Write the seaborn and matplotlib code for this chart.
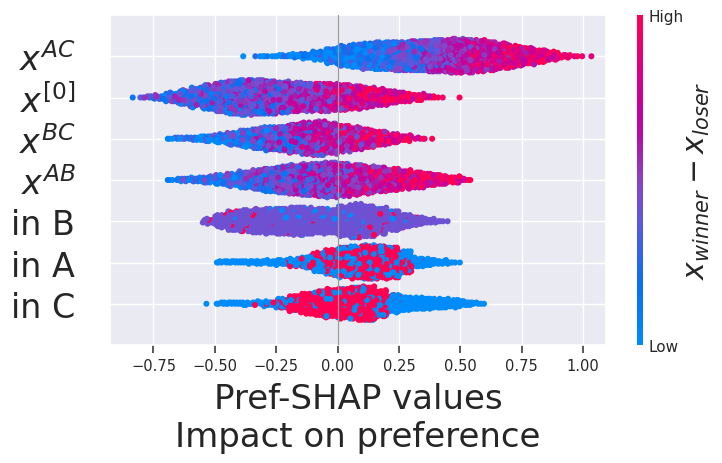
import numpy as np
import pandas as pd
import matplotlib
matplotlib.use("Agg")
import matplotlib.pyplot as plt
import seaborn as sns
from matplotlib.colors import LinearSegmentedColormap, Normalize
from matplotlib.cm import ScalarMappable

# ----------------------------------------------------------
# data: per feature, counts of points in
# 0.05-wide bins of SHAP value, starting at *_START, and the
# feature value (0 = low, 1 = high) of the points in each bin
# ----------------------------------------------------------
features = ["in C", "in A", "in B", r"$x^{AB}$", r"$x^{BC}$", r"$x^{[0]}$", r"$x^{AC}$"]

AC_START = -0.40
ac_counts = [1, 3, 4, 6, 10, 16, 28, 50,
             70, 80, 88, 95, 98, 100, 104, 108, 112, 118,
             116, 108, 98, 86, 72, 58, 42, 28, 12, 3, 1]
ac_value = [0.03, 0.03, 0.03, 0.04, 0.04, 0.05, 0.06, 0.08,
            0.10, 0.13, 0.17, 0.22, 0.28, 0.34, 0.40, 0.47, 0.54, 0.60,
            0.65, 0.70, 0.74, 0.78, 0.82, 0.85, 0.88, 0.90, 0.92, 0.93, 0.94]

X0_START = -0.85
x0_counts = [2, 6, 14, 28, 45, 62, 78, 95, 108, 115,
             112, 108, 100, 94, 90, 90, 88,
             82, 75, 64, 52, 40, 30, 20, 8, 2, 1]
x0_value = [0.30, 0.30, 0.30, 0.31, 0.32, 0.33, 0.34, 0.35, 0.36, 0.38,
            0.40, 0.43, 0.47, 0.52, 0.57, 0.62, 0.67,
            0.72, 0.77, 0.82, 0.86, 0.90, 0.92, 0.94, 0.95, 0.96, 0.96]

BC_START = -0.70
bc_counts = [5, 8, 12, 18, 28, 42, 56, 70, 80, 84, 96,
             110, 118, 104, 90, 76, 62, 48, 32, 18, 4, 2]
bc_value = [0.08, 0.08, 0.08, 0.10, 0.12, 0.16, 0.24, 0.31, 0.37, 0.42, 0.48,
            0.54, 0.60, 0.65, 0.70, 0.75, 0.81, 0.86, 0.90, 0.92, 0.93, 0.94]

AB_START = -0.70
ab_counts = [4, 10, 14, 20, 30, 40, 52, 64, 76, 86, 94, 102, 108,
             114, 106, 96, 88, 80, 70, 60, 50, 40, 30, 20, 6]
ab_value = [0.15, 0.15, 0.18, 0.20, 0.22, 0.25, 0.30, 0.33, 0.37, 0.40, 0.44, 0.48, 0.52,
            0.56, 0.60, 0.65, 0.70, 0.75, 0.80, 0.85, 0.88, 0.90, 0.92, 0.93, 0.94]

INB_START = -0.55
inb_counts = [14, 40, 62, 70, 76, 80, 84, 90, 88, 80,
              76, 96, 110, 100, 84, 62, 42, 26, 14, 4]
inb_red = [0.10, 0.10, 0.09, 0.08, 0.06, 0.04, 0.03, 0.03, 0.03, 0.03,
           0.03, 0.03, 0.03, 0.04, 0.06, 0.08, 0.08, 0.06, 0.04, 0.0]
inb_blue = [0.03, 0.03, 0.04, 0.05, 0.06, 0.07, 0.08, 0.09, 0.09, 0.10,
            0.10, 0.09, 0.08, 0.07, 0.06, 0.04, 0.03, 0.02, 0.0, 0.0]

INA_START = -0.50
ina_counts = [6, 8, 9, 10, 12, 16, 24, 36, 62, 82,
              96, 104, 110, 106, 100, 70, 30, 20, 12, 4]
ina_red = [0, 0, 0, 0, 0.02, 0.08, 0.15, 0.35, 0.52, 0.58,
           0.60, 0.60, 0.60, 0.60, 0.58, 0.45, 0.10, 0, 0, 0]

INC_START = -0.55
inc_counts = [1, 6, 8, 9, 10, 14, 30, 50, 66, 80, 90, 96,
              106, 110, 84, 56, 44, 38, 34, 30, 24, 14, 5]
inc_red = [0, 0, 0, 0, 0.05, 0.25, 0.60, 0.80, 0.85, 0.85, 0.85, 0.85,
           0.85, 0.82, 0.65, 0.20, 0.03, 0, 0, 0, 0, 0, 0]

BIN = 0.05
MID = 0.42  # colour value of the "no difference" points in row "in B"

# shap-like red/blue colour map
shap_cmap = LinearSegmentedColormap.from_list(
    "red_blue",
    [(0.0, "#008bfb"), (0.18, "#0a6ff0"), (0.38, "#6058dc"), (0.5, "#8a42c2"),
     (0.64, "#b30ea6"), (0.72, "#c4009e"), (0.86, "#e1007e"), (1.0, "#ff0052")])


# ----------------------------------------------------------
# expand the binned counts into beeswarm points
# ----------------------------------------------------------
def spread_in_bins(start, counts):
    xs, u, b_idx = [], [], []
    for b, c in enumerate(counts):
        k = np.arange(c) + 0.5
        xs.append(start + BIN * (b + (k * 0.6180339887 + b * 0.37) % 1.0))
        u.append((k * 0.41421356 + b * 0.29) % 1.0)
        b_idx.append(np.full(c, b))
    return np.concatenate(xs), np.concatenate(u), np.concatenate(b_idx)


def continuous_colors(u, b_idx, means, spread):
    return np.clip(np.asarray(means)[b_idx] + spread * (2 * u - 1), 0, 1)


def binary_colors(u, b_idx, red):
    return (u < np.asarray(red)[b_idx]).astype(float)


def swarm_offsets(xs, start, row_height=0.5):
    quant = np.floor((xs - start) / (BIN / 4) + 1e-9)
    key = ((np.arange(len(xs)) + 0.5) * 0.7182818) % 1.0
    inds = np.lexsort((key, quant))
    ys = np.zeros(len(xs))
    layer, last = 0, None
    for i in inds:
        if quant[i] != last:
            layer = 0
        ys[i] = np.ceil(layer / 2) * ((layer % 2) * 2 - 1)
        layer += 1
        last = quant[i]
    return ys * 0.9 * (row_height / np.max(ys + 1))


rows = []

x, u, b = spread_in_bins(INC_START, inc_counts)
rows.append((x, binary_colors(u, b, inc_red), INC_START))

x, u, b = spread_in_bins(INA_START, ina_counts)
rows.append((x, binary_colors(u, b, ina_red), INA_START))

x, u, b = spread_in_bins(INB_START, inb_counts)
v = np.full(len(x), MID)
v[u < np.asarray(inb_red)[b]] = 1.0
v[u > 1 - np.asarray(inb_blue)[b]] = 0.0
rows.append((x, v, INB_START))

x, u, b = spread_in_bins(AB_START, ab_counts)
rows.append((x, continuous_colors(u, b, ab_value, 0.30), AB_START))

x, u, b = spread_in_bins(BC_START, bc_counts)
rows.append((x, continuous_colors(u, b, bc_value, 0.35), BC_START))

x, u, b = spread_in_bins(X0_START, x0_counts)
rows.append((x, continuous_colors(u, b, x0_value, 0.30), X0_START))

x, u, b = spread_in_bins(AC_START, ac_counts)
rows.append((x, continuous_colors(u, b, ac_value, 0.25), AC_START))

frames = []
for pos, (xs, vals, start) in enumerate(rows):
    frames.append(pd.DataFrame({"shap": xs,
                                "y": pos + swarm_offsets(xs, start),
                                "value": vals}))
df = pd.concat(frames, ignore_index=True)
draw_order = np.argsort(((np.arange(len(df)) + 0.5) * 0.7320508) % 1.0)
df = df.iloc[draw_order]

# ----------------------------------------------------------
# plot
# ----------------------------------------------------------
sns.set_theme(style="darkgrid")
fig = plt.figure(figsize=(7.22, 4.64), dpi=100)
ax = fig.add_axes([0.1524, 0.2543, 0.6866, 0.7112])
cax = fig.add_axes([0.8827, 0.2543, 0.0083, 0.7112])

sns.scatterplot(data=df, x="shap", y="y", hue="value", palette=shap_cmap,
                hue_norm=(0, 1), s=19, linewidth=0, legend=False, ax=ax)
ax.axvline(0, color="#999999", lw=0.9, zorder=3)

ax.set_ylim(-1, len(features))
ax.set_xlim(-0.927, 1.092)
ax.set_yticks(range(len(features)))
ax.set_yticklabels(features)
ax.set_xticks([-0.75, -0.5, -0.25, 0, 0.25, 0.5, 0.75, 1.0])
ax.tick_params(axis="y", labelsize=24, pad=25, length=0)
ax.tick_params(axis="x", labelsize=10.5, bottom=True, length=5.5, width=1.25,
               color="#444444")
ax.set_ylabel("")
ax.set_xlabel("Pref-SHAP values\nImpact on preference", fontsize=24.5,
              labelpad=7, linespacing=1.2)

cb = fig.colorbar(ScalarMappable(norm=Normalize(0, 1), cmap=shap_cmap),
                  cax=cax, ticks=[0, 1])
cb.set_ticklabels(["Low", "High"])
cb.ax.tick_params(labelsize=11, length=0)
cb.outline.set_visible(False)
cax.grid(False)
cb.set_label(r"$x_{winner} - x_{loser}$", size=21.5, labelpad=0)

fig.savefig("out.png", dpi=100)
